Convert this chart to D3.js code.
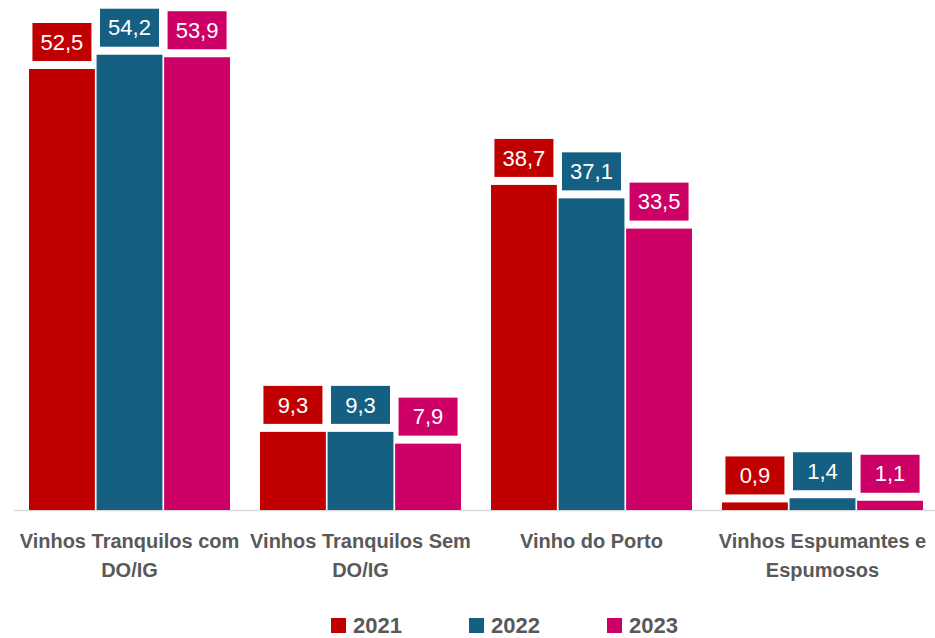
<!DOCTYPE html>
<html>
<head>
<meta charset="utf-8">
<script src="https://cdn.jsdelivr.net/npm/d3@7"></script>
<style>
html,body{margin:0;padding:0;background:#fff;}
svg{display:block;}
</style>
</head>
<body>
<svg id="chart" width="935" height="638"></svg>
<script>
const categories = [
  ["Vinhos Tranquilos com", "DO/IG"],
  ["Vinhos Tranquilos Sem", "DO/IG"],
  ["Vinho do Porto"],
  ["Vinhos Espumantes e", "Espumosos"]
];
const years = ["2021", "2022", "2023"];
const values2021 = [52.5, 9.3, 38.7, 0.9];
const values2022 = [54.2, 9.3, 37.1, 1.4];
const values2023 = [53.9, 7.9, 33.5, 1.1];
const colors = ["#C00000", "#156082", "#CC0066"];

const series = [values2021, values2022, values2023];
const catKeys = categories.map((c, i) => "c" + i);

const svg = d3.select("#chart");
const fontFam = "'Liberation Sans', Arial, sans-serif";
const baseY = 510;

const x0 = d3.scaleBand().domain(catKeys).range([14, 938]).paddingInner(0).paddingOuter(0);
const x1 = d3.scaleBand().domain(years).range([15, x0.bandwidth() - 15]).paddingInner(0.025);
const y = d3.scaleLinear().domain([0, 60]).range([baseY, baseY - 504]);

const loc = d3.formatLocale({decimal: ",", thousands: ".", grouping: [3], currency: ["", "€"]});
const fmt = loc.format(".1f");

// axis line
svg.append("line")
  .attr("x1", 14).attr("x2", 935)
  .attr("y1", baseY + 0.5).attr("y2", baseY + 0.5)
  .attr("stroke", "#d9d9d9").attr("stroke-width", 1.5);

const groups = svg.selectAll("g.cat").data(catKeys).enter().append("g")
  .attr("class", "cat")
  .attr("transform", d => `translate(${x0(d)},0)`);

groups.each(function(key, ci) {
  const g = d3.select(this);
  years.forEach((yr, si) => {
    const v = series[si][ci];
    const bx = x1(yr);
    const bw = x1.bandwidth();
    g.append("rect")
      .attr("x", bx).attr("width", bw)
      .attr("y", y(v)).attr("height", baseY - y(v))
      .attr("fill", colors[si]);
    const boxW = 59, boxH = 38;
    const cx = bx + bw / 2;
    const boxBottom = y(v) - 8;
    g.append("rect")
      .attr("x", cx - boxW / 2).attr("y", boxBottom - boxH)
      .attr("width", boxW).attr("height", boxH)
      .attr("fill", colors[si]);
    g.append("text")
      .attr("x", cx).attr("y", boxBottom - boxH / 2)
      .attr("dy", "0.35em")
      .attr("text-anchor", "middle")
      .attr("font-family", fontFam)
      .attr("font-size", 22)
      .attr("fill", "#ffffff")
      .text(fmt(v));
  });
  const lines = categories[ci];
  const t = g.append("text")
    .attr("text-anchor", "middle")
    .attr("font-family", fontFam)
    .attr("font-size", 20)
    .attr("font-weight", "bold")
    .attr("fill", "#595959");
  lines.forEach((ln, li) => {
    t.append("tspan")
      .attr("x", x0.bandwidth() / 2)
      .attr("y", 548 + li * 29)
      .text(ln);
  });
});

// legend
const legendX = [331, 469, 607];
const lg = svg.selectAll("g.leg").data(years).enter().append("g")
  .attr("class", "leg")
  .attr("transform", (d, i) => `translate(${legendX[i]},618)`);
lg.append("rect").attr("width", 15).attr("height", 15).attr("fill", (d, i) => colors[i]);
lg.append("text")
  .attr("x", 22).attr("y", 15)
  .attr("font-family", fontFam)
  .attr("font-size", 22)
  .attr("font-weight", "bold")
  .attr("fill", "#595959")
  .text(d => d);
</script>
</body>
</html>
